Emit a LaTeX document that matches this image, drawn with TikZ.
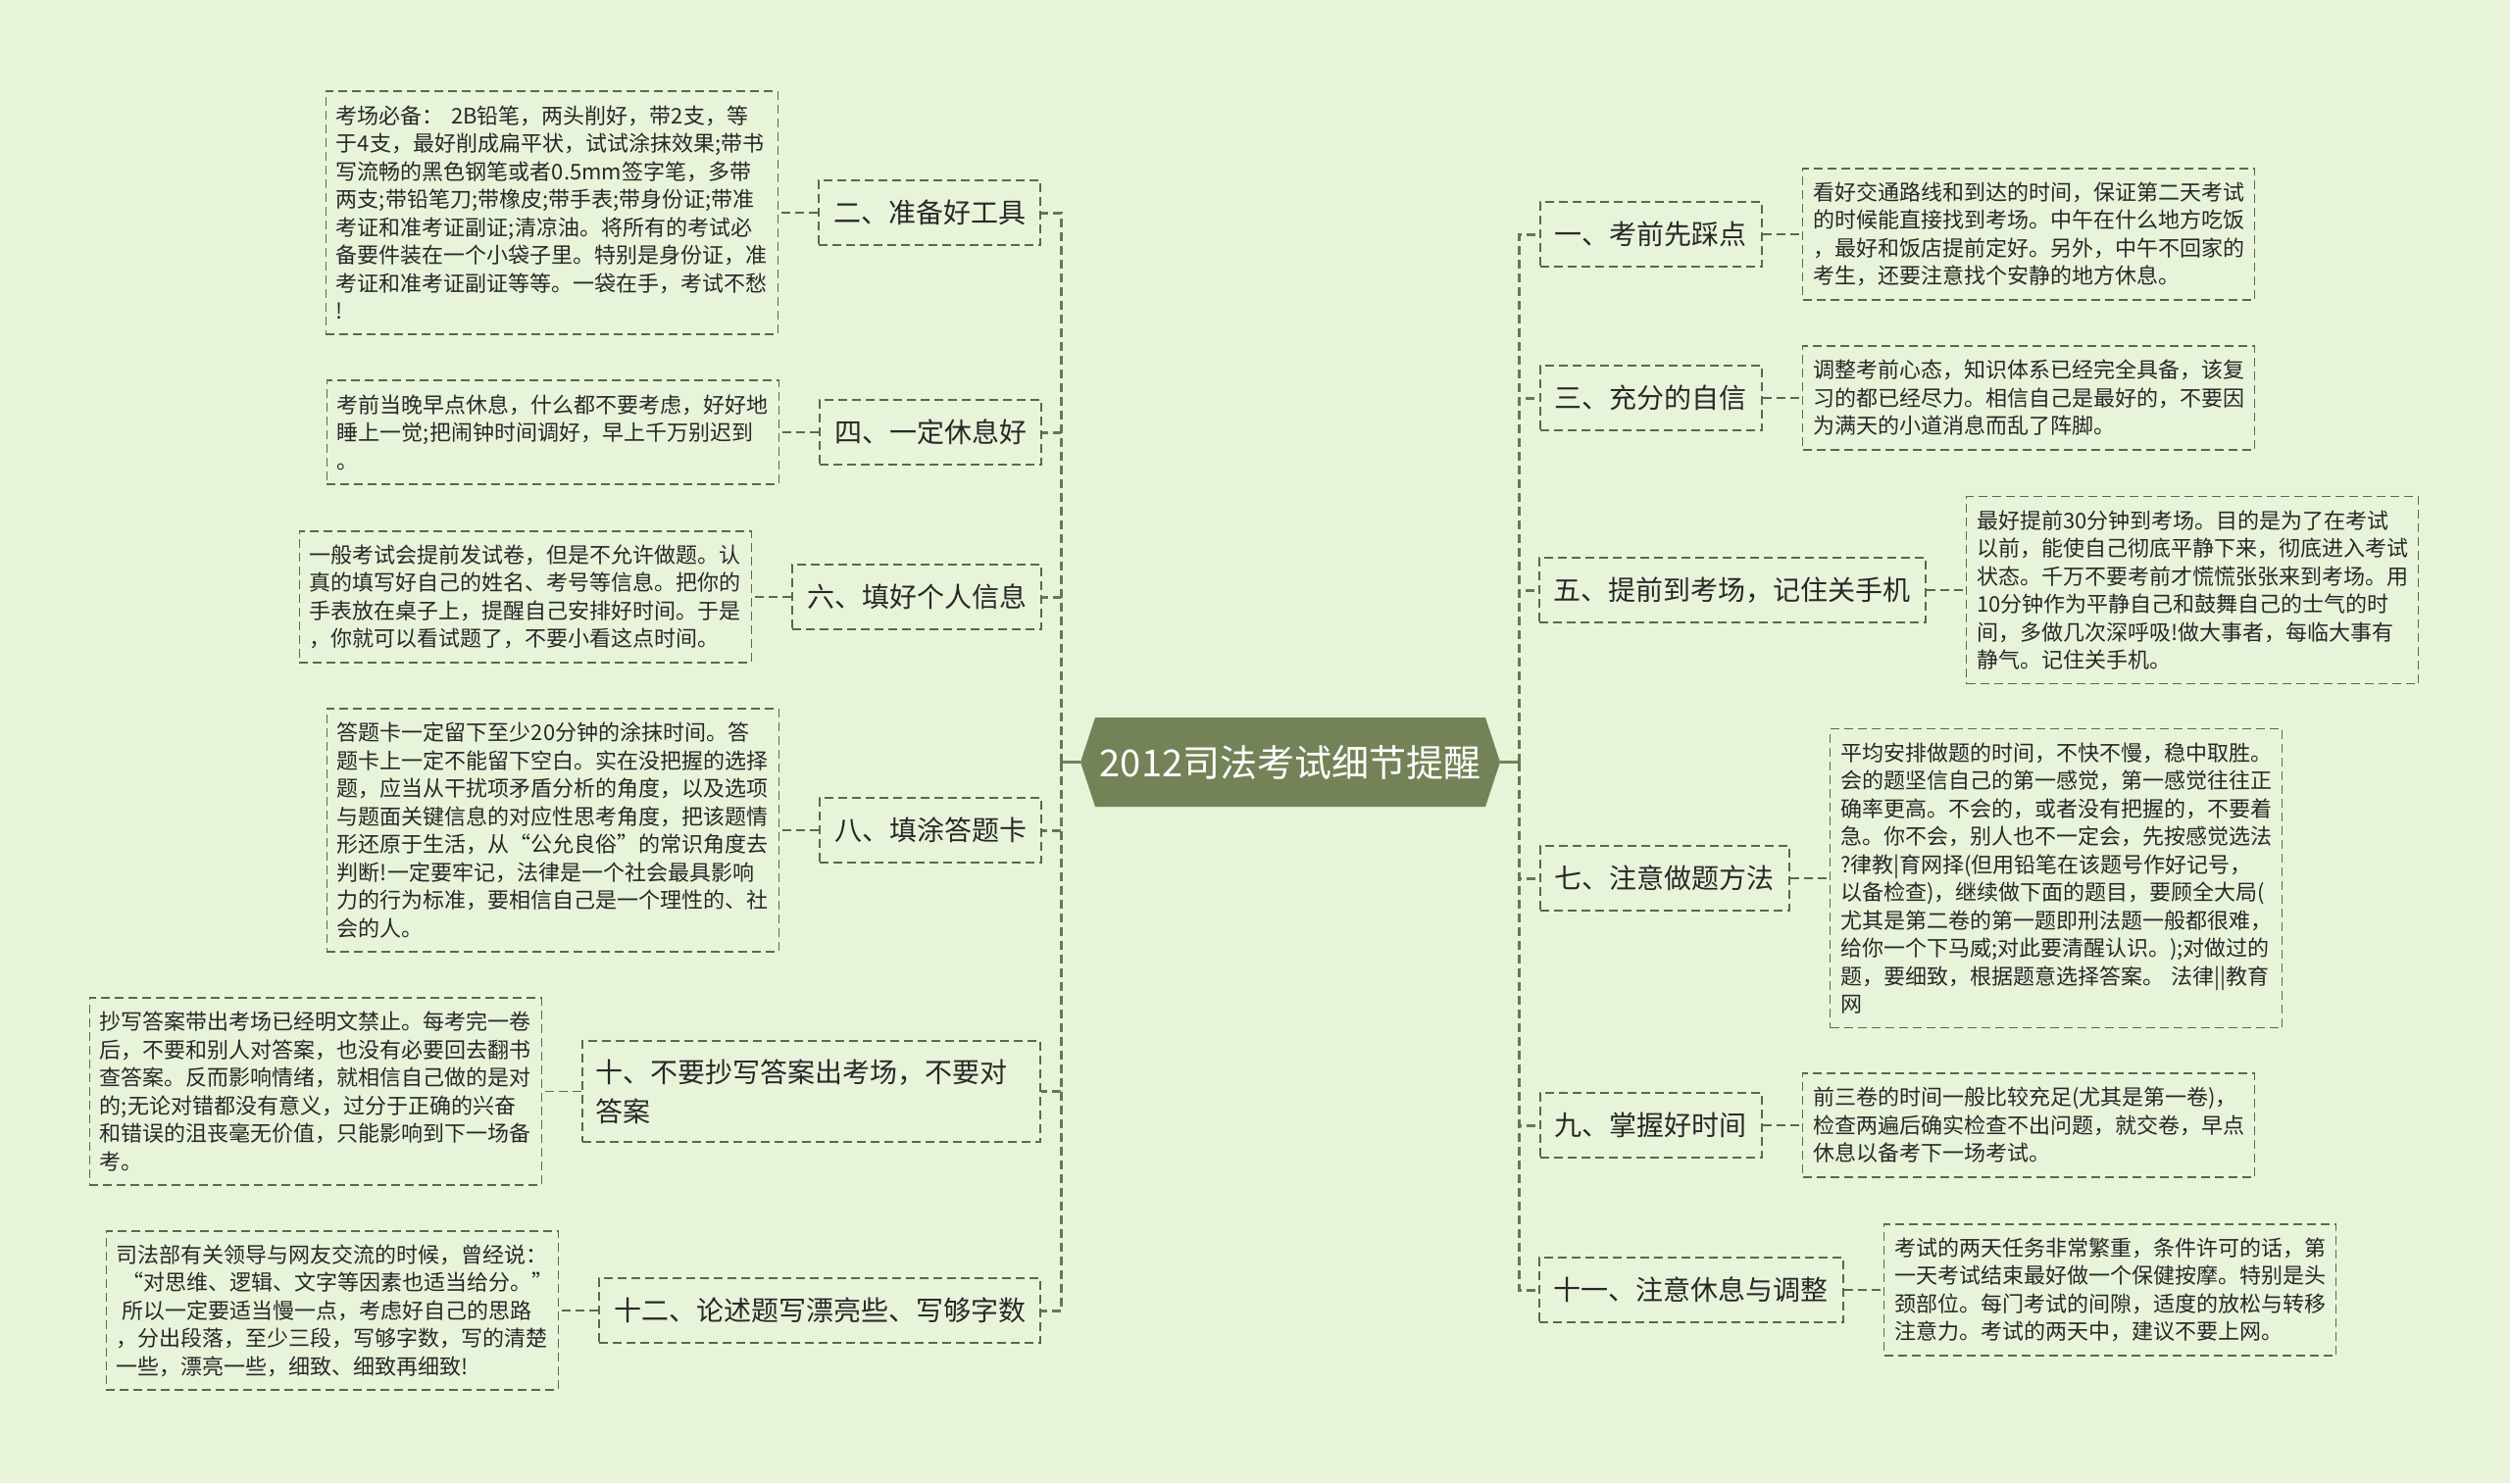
\documentclass[tikz,border=0pt]{standalone}
\usepackage{fontspec}
\newfontfamily\cjk{Noto Sans CJK SC}
\usetikzlibrary{positioning}
\definecolor{bgc}{RGB}{232,244,218}
\definecolor{hexc}{RGB}{115,131,87}
\definecolor{trunkc}{RGB}{104,120,78}
\definecolor{boxc}{RGB}{92,102,80}
\definecolor{txtc}{RGB}{40,40,40}
\begin{document}
\begin{tikzpicture}[x=1pt,y=-1pt,
  branch/.style={draw=boxc, line width=1.8pt, dash pattern=on 9pt off 5pt, text=txtc,
    font=\cjk\fontsize{28}{40}\selectfont, inner xsep=15pt, inner ysep=0pt, minimum height=66pt},
  detail/.style={draw=boxc, line width=1.6pt, dash pattern=on 9pt off 5pt, text=txtc,
    font=\cjk\fontsize{22}{28.5}\selectfont, text width=440pt, align=left, inner xsep=10.5pt, inner ysep=0pt},
  nl/.style={minimum height={#1*28.5pt+20pt}},
  trunk/.style={draw=trunkc, line width=3pt, dash pattern=on 9pt off 5pt},
  conn/.style={draw=boxc, line width=1.8pt, dash pattern=on 9pt off 5pt},
  rootline/.style={draw=hexc, line width=3pt},
  rootnode/.style={font=\cjk\fontsize{38}{38}\selectfont, text=white, minimum width=428pt, minimum height=91pt, inner sep=0pt}
]
\useasboundingbox (0,0) rectangle (2560,1513);
\fill[bgc] (0,0) rectangle (2560,1513);

% root
\fill[hexc] (1102,777.5) -- (1117,732) -- (1515,732) -- (1530,777.5) -- (1515,823) -- (1117,823) -- cycle;
\node[rootnode] (root) at (1316,777.5) {2012司法考试细节提醒};
\coordinate (L) at (1082,777.5);
\coordinate (R) at (1549,777.5);

% left branches
\node[branch, anchor=east] (b2) at (1062,217) {二、准备好工具};
\node[branch, anchor=east] (b4) at (1063,441) {四、一定休息好};
\node[branch, anchor=east] (b6) at (1063,609) {六、填好个人信息};
\node[branch, anchor=east] (b8) at (1063,847) {八、填涂答题卡};
\node[branch, anchor=east, text width=440pt, align=left, inner xsep=13.5pt, minimum height=103pt] (b10) at (1062,1113.5) {十、不要抄写答案出考场，不要对\\答案};
\node[branch, anchor=east] (b12) at (1062,1337) {十二、论述题写漂亮些、写够字数};

% right branches
\node[branch, anchor=west] (r1) at (1570,239) {一、考前先踩点};
\node[branch, anchor=west] (r3) at (1570,406) {三、充分的自信};
\node[branch, anchor=west] (r5) at (1569,602) {五、提前到考场，记住关手机};
\node[branch, anchor=west] (r7) at (1570,896) {七、注意做题方法};
\node[branch, anchor=west] (r9) at (1570,1148) {九、掌握好时间};
\node[branch, anchor=west] (r11) at (1569,1316) {十一、注意休息与调整};

% left details
\node[detail, nl=8, left=40pt of b2] (d2) {考场必备： 2B铅笔，两头削好，带2支，等\\于4支，最好削成扁平状，试试涂抹效果;带书\\写流畅的黑色钢笔或者0.5mm签字笔，多带\\两支;带铅笔刀;带橡皮;带手表;带身份证;带准\\考证和准考证副证;清凉油。将所有的考试必\\备要件装在一个小袋子里。特别是身份证，准\\考证和准考证副证等等。一袋在手，考试不愁\\!};
\node[detail, nl=3, left=40pt of b4] (d4) {考前当晚早点休息，什么都不要考虑，好好地\\睡上一觉;把闹钟时间调好，早上千万别迟到\\。};
\node[detail, nl=4, left=40pt of b6] (d6) {一般考试会提前发试卷，但是不允许做题。认\\真的填写好自己的姓名、考号等信息。把你的\\手表放在桌子上，提醒自己安排好时间。于是\\，你就可以看试题了，不要小看这点时间。};
\node[detail, nl=8, left=40pt of b8] (d8) {答题卡一定留下至少20分钟的涂抹时间。答\\题卡上一定不能留下空白。实在没把握的选择\\题，应当从干扰项矛盾分析的角度，以及选项\\与题面关键信息的对应性思考角度，把该题情\\形还原于生活，从“公允良俗”的常识角度去\\判断!一定要牢记，法律是一个社会最具影响\\力的行为标准，要相信自己是一个理性的、社\\会的人。};
\node[detail, nl=6, left=40pt of b10] (d10) {抄写答案带出考场已经明文禁止。每考完一卷\\后，不要和别人对答案，也没有必要回去翻书\\查答案。反而影响情绪，就相信自己做的是对\\的;无论对错都没有意义，过分于正确的兴奋\\和错误的沮丧毫无价值，只能影响到下一场备\\考。};
\node[detail, nl=5, left=40pt of b12] (d12) {司法部有关领导与网友交流的时候，曾经说：\\\hspace*{6pt}“对思维、逻辑、文字等因素也适当给分。”\\\hspace*{6pt}所以一定要适当慢一点，考虑好自己的思路\\，分出段落，至少三段，写够字数，写的清楚\\一些，漂亮一些，细致、细致再细致!};

% right details
\node[detail, nl=4, right=40pt of r1] (e1) {看好交通路线和到达的时间，保证第二天考试\\的时候能直接找到考场。中午在什么地方吃饭\\，最好和饭店提前定好。另外，中午不回家的\\考生，还要注意找个安静的地方休息。};
\node[detail, nl=3, right=40pt of r3] (e3) {调整考前心态，知识体系已经完全具备，该复\\习的都已经尽力。相信自己是最好的，不要因\\为满天的小道消息而乱了阵脚。};
\node[detail, nl=6, right=40pt of r5] (e5) {最好提前30分钟到考场。目的是为了在考试\\以前，能使自己彻底平静下来，彻底进入考试\\状态。千万不要考前才慌慌张张来到考场。用\\10分钟作为平静自己和鼓舞自己的士气的时\\间，多做几次深呼吸!做大事者，每临大事有\\静气。记住关手机。};
\node[detail, nl=10, right=40pt of r7] (e7) {平均安排做题的时间，不快不慢，稳中取胜。\\会的题坚信自己的第一感觉，第一感觉往往正\\确率更高。不会的，或者没有把握的，不要着\\急。你不会，别人也不一定会，先按感觉选法\\?律教|育网择(但用铅笔在该题号作好记号，\\以备检查)，继续做下面的题目，要顾全大局(\\尤其是第二卷的第一题即刑法题一般都很难，\\给你一个下马威;对此要清醒认识。);对做过的\\题，要细致，根据题意选择答案。 法律||教育\\网};
\node[detail, nl=3, right=40pt of r9] (e9) {前三卷的时间一般比较充足(尤其是第一卷)，\\检查两遍后确实检查不出问题，就交卷，早点\\休息以备考下一场考试。};
\node[detail, nl=4, right=40pt of r11] (e11) {考试的两天任务非常繁重，条件许可的话，第\\一天考试结束最好做一个保健按摩。特别是头\\颈部位。每门考试的间隙，适度的放松与转移\\注意力。考试的两天中，建议不要上网。};

% root to trunks
\draw[rootline] (root.west) -- (L);
\draw[rootline] (root.east) -- (R);

% trunk to branches
\foreach \n in {b2,b4,b6,b8,b10,b12} \draw[trunk] (L) |- (\n.east);
\foreach \n in {r1,r3,r5,r7,r9,r11} \draw[trunk] (R) |- (\n.west);

% branch to details
\draw[conn] (b2.west) -- (d2.east);
\draw[conn] (b4.west) -- (d4.east);
\draw[conn] (b6.west) -- (d6.east);
\draw[conn] (b8.west) -- (d8.east);
\draw[conn] (b10.west) -- (d10.east);
\draw[conn] (b12.west) -- (d12.east);
\draw[conn] (r1.east) -- (e1.west);
\draw[conn] (r3.east) -- (e3.west);
\draw[conn] (r5.east) -- (e5.west);
\draw[conn] (r7.east) -- (e7.west);
\draw[conn] (r9.east) -- (e9.west);
\draw[conn] (r11.east) -- (e11.west);
\end{tikzpicture}
\end{document}
